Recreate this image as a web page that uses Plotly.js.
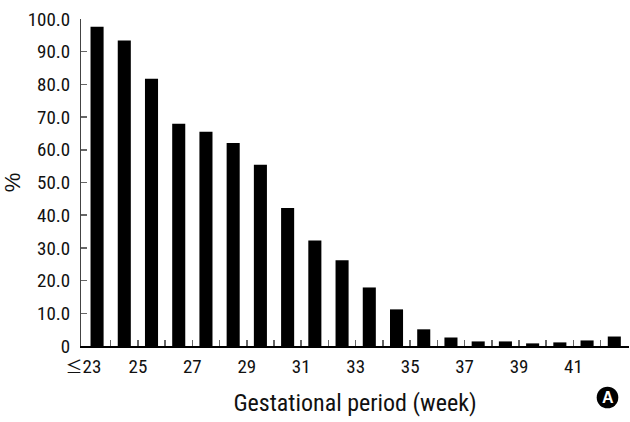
<!DOCTYPE html>
<html>
<head>
<meta charset="utf-8">
<script src="https://cdn.plot.ly/plotly-3.0.1.min.js"></script>
<style>html,body{margin:0;padding:0;background:#fff;}#chart{width:630px;height:422px;}</style>
</head>
<body>
<div id="chart"></div>
<script>
// Gestational week categories (first is "≤23")
const categories = ["≤23","24","25","26","27","28","29","30","31","32","33","34","35","36","37","38","39","40","41","42"];
// Percentage values
const percentValues = [97.6,93.4,81.7,68.0,65.5,62.1,55.4,42.2,32.3,26.2,17.9,11.2,5.1,2.6,1.4,1.4,0.8,1.1,1.7,2.9];
// Labelled categories on the x axis
const xTickLabels = ["≤23","25","27","29","31","33","35","37","39","41"];
// Y axis tick values and labels
const yTickValues = [0,10,20,30,40,50,60,70,80,90,100];
const yTickLabels = ["0","10.0","20.0","30.0","40.0","50.0","60.0","70.0","80.0","90.0","100.0"];

const FONT = '"Roboto Condensed", "Liberation Sans", Arial, sans-serif';
const CJK = "'Noto Sans CJK KR', 'Noto Sans CJK SC', sans-serif";

const xIdx = categories.map((c, i) => i);
// labels sit on the left boundary of their category
const labelPos = xTickLabels.map(l => categories.indexOf(l) - 0.5);
// the "≤" sign is drawn as a wide full-width glyph, as in the original
const xTickText = xTickLabels.map(l => l.replace('≤', '<span style="font-family:' + CJK + ';font-size:17px">≤</span>'));
// tick marks on every inner category boundary
const boundaryVals = categories.slice(1).map((c, i) => i + 0.5);

const traces = [
  {
    type: 'bar',
    x: xIdx,
    y: percentValues,
    width: 0.48,
    marker: {color: '#000000', line: {width: 0}},
    hoverinfo: 'x+y',
    showlegend: false
  },
  // helper trace so the label axis (xaxis2) is drawn
  {type: 'scatter', x: [0], y: [0], xaxis: 'x2', yaxis: 'y', mode: 'markers', marker: {opacity: 0}, hoverinfo: 'skip', showlegend: false}
];

const XRANGE = [-0.59, 19.54];

const layout = {
  width: 630,
  height: 422,
  margin: {l: 81, r: 1, t: 19, b: 76},
  paper_bgcolor: '#ffffff',
  plot_bgcolor: '#ffffff',
  font: {family: FONT, size: 19, color: '#111111'},
  showlegend: false,
  xaxis: {
    range: XRANGE,
    showgrid: false,
    zeroline: false,
    showline: true,
    linecolor: '#000000',
    linewidth: 2,
    ticks: 'inside',
    ticklen: 6,
    tickwidth: 1.5,
    tickcolor: '#666666',
    tickmode: 'array',
    tickvals: boundaryVals,
    ticktext: boundaryVals.map(() => ''),
    fixedrange: true
  },
  xaxis2: {
    overlaying: 'x',
    range: XRANGE,
    side: 'bottom',
    anchor: 'y',
    showgrid: false,
    zeroline: false,
    showline: false,
    ticks: '',
    tickmode: 'array',
    tickvals: labelPos,
    ticktext: xTickText,
    ticklabelstandoff: 7,
    tickfont: {family: FONT, size: 19, color: '#111111'},
    title: {text: 'Gestational period (week)', font: {family: FONT, size: 24, color: '#111111'}, standoff: 17},
    fixedrange: true
  },
  yaxis: {
    range: [0, 100],
    showgrid: false,
    zeroline: false,
    showline: true,
    linecolor: '#444444',
    linewidth: 1,
    ticks: 'inside',
    ticklen: 6,
    tickwidth: 1.5,
    tickcolor: '#666666',
    tickmode: 'array',
    tickvals: yTickValues,
    ticktext: yTickLabels,
    ticklabelstandoff: 6,
    tickfont: {family: FONT, size: 19, color: '#111111'},
    title: {text: '%', font: {family: '"Liberation Sans", Arial, sans-serif', size: 22, color: '#111111'}, standoff: 0},
    fixedrange: true
  },
  shapes: [
    {
      type: 'circle',
      xref: 'paper', yref: 'paper',
      xsizemode: 'pixel', ysizemode: 'pixel',
      xanchor: (607.5 - 81) / 548, yanchor: (346 - 397.5) / 327,
      x0: -10.8, x1: 10.8, y0: -10.8, y1: 10.8,
      fillcolor: '#000000',
      line: {width: 0}
    }
  ],
  annotations: [
    {
      xref: 'paper', yref: 'paper',
      x: (607.5 - 81) / 548, y: (346 - 397.5) / 327,
      xanchor: 'center', yanchor: 'middle',
      text: '<b>A</b>',
      showarrow: false,
      font: {family: '"Liberation Sans", Arial, sans-serif', size: 16, color: '#ffffff'}
    }
  ]
};

Plotly.newPlot('chart', traces, layout, {displayModeBar: false, staticPlot: true});
</script>
</body>
</html>
